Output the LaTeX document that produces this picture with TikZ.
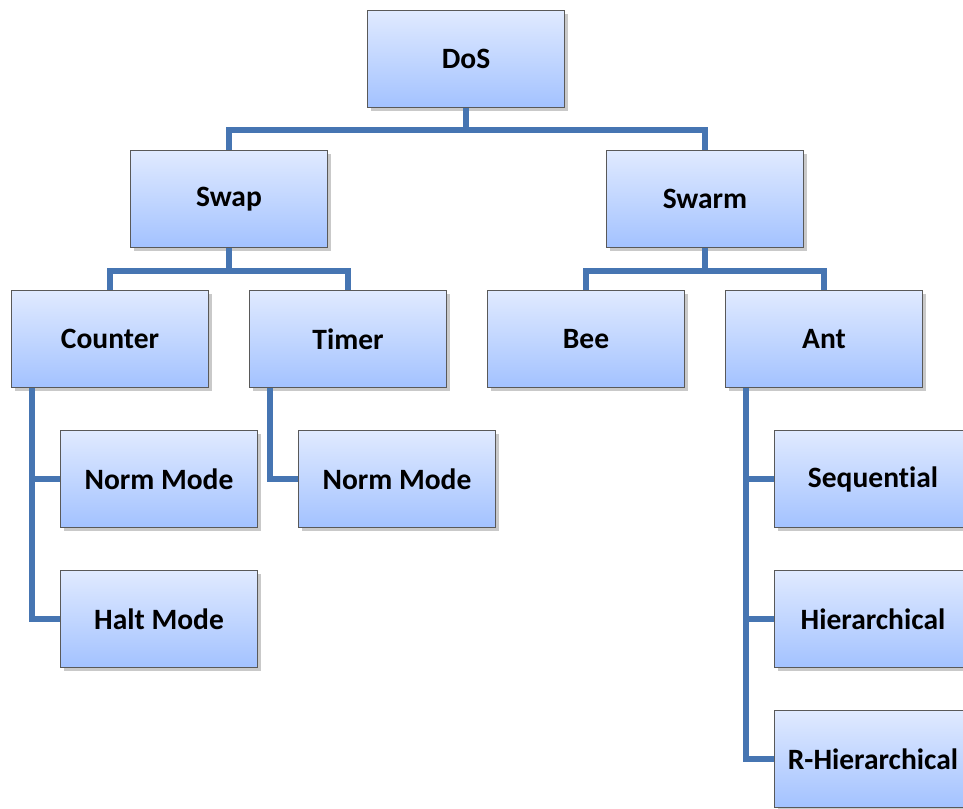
\documentclass[tikz,border=0pt]{standalone}
\usepackage{fontspec}
\setmainfont{Carlito}[Ligatures=NoCommon]
\usetikzlibrary{shadows}
\definecolor{linkblue}{RGB}{70,117,178}
\definecolor{boxtop}{RGB}{224,234,255}
\definecolor{boxbot}{RGB}{163,194,255}
\tikzset{
  box/.style={draw=black!65, line width=0.6pt, top color=boxtop, bottom color=boxbot,
    minimum width=3.94cm, minimum height=1.94cm, inner sep=0pt,
    font=\fontsize{16.8}{20}\selectfont\bfseries,
    drop shadow={shadow xshift=2pt, shadow yshift=-2pt, opacity=0.35, fill=black!60}},
  conn/.style={draw=linkblue, line width=3pt}
}
\begin{document}
\begin{tikzpicture}[x=0.02cm, y=-0.02cm]
\clip (0,0) rectangle (963,808);
\fill[white] (0,0) rectangle (963,808);

\node[box] (dos) at (466,59) {DoS};

\node[box] (swap) at (229,199) {Swap};
\node[box] (swarm) at (705,199) {Swarm};

\node[box] (counter) at (110,339) {Counter};
\node[box] (timer) at (348,339) {Timer};
\node[box] (bee) at (586,339) {Bee};
\node[box] (ant) at (824,339) {Ant};

\node[box] (cnorm) at (159,479) {Norm Mode};
\node[box] (chalt) at (159,619) {Halt Mode};
\node[box] (tnorm) at (397,479) {Norm Mode};

\node[box] (seq) at (873,479) {Sequential};
\node[box] (hier) at (873,619) {Hierarchical};
\node[box] (rhier) at (873,759) {R-Hierarchical};

% tree links
\draw[conn] (dos.south) -- ++(0,22) -| (swap.north);
\draw[conn] (dos.south) -- ++(0,22) -| (swarm.north);
\draw[conn] (swap.south) -- ++(0,23) -| (counter.north);
\draw[conn] (swap.south) -- ++(0,23) -| (timer.north);
\draw[conn] (swarm.south) -- ++(0,23) -| (bee.north);
\draw[conn] (swarm.south) -- ++(0,23) -| (ant.north);

\draw[conn] ([xshift=0.42cm]counter.south west) |- (cnorm.west);
\draw[conn] ([xshift=0.42cm]counter.south west) |- (chalt.west);
\draw[conn] ([xshift=0.42cm]timer.south west) |- (tnorm.west);
\draw[conn] ([xshift=0.42cm]ant.south west) |- (seq.west);
\draw[conn] ([xshift=0.42cm]ant.south west) |- (hier.west);
\draw[conn] ([xshift=0.42cm]ant.south west) |- (rhier.west);
\end{tikzpicture}
\end{document}
